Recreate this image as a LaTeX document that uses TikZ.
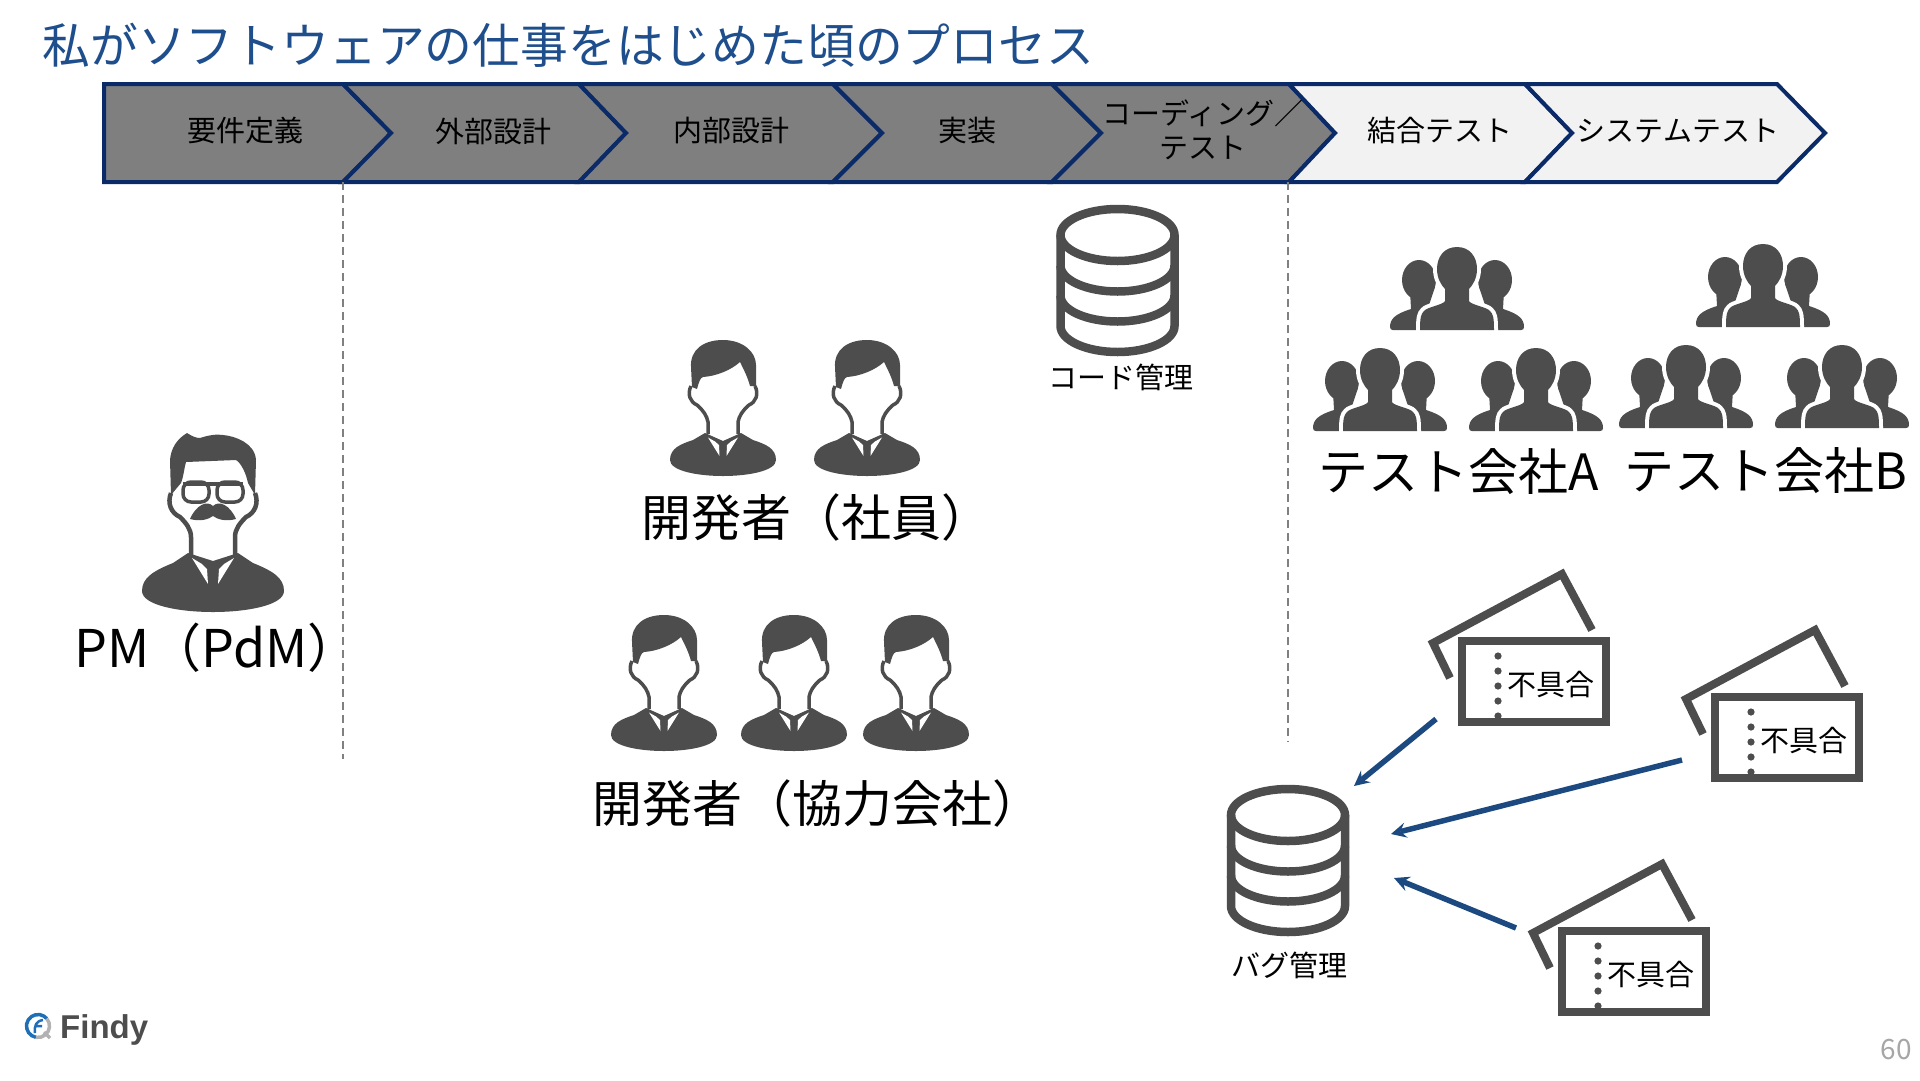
\documentclass[tikz,border=0pt]{standalone}
\usepackage{fontspec}
\setmainfont{Noto Sans CJK JP}
\newfontfamily\findyfont{Liberation Sans}
\definecolor{titleblue}{HTML}{1F4E8C}
\definecolor{stepnavy}{HTML}{0B2A68}
\definecolor{stepgray}{HTML}{7F7F7F}
\definecolor{steplight}{HTML}{F2F2F2}
\definecolor{icondark}{HTML}{4D4D4D}
\definecolor{arrowblue}{HTML}{1C4A80}
\definecolor{findyblue}{HTML}{1F6FB8}
\tikzset{
    titlelabel/.style={anchor=west, text=titleblue, font=\fontsize{47.8}{50}\selectfont},
    steplabel/.style={align=center, font=\fontsize{29}{34}\selectfont},
    smalllabel/.style={font=\fontsize{29}{34}\selectfont},
    biglabel/.style={font=\fontsize{50}{56}\selectfont},
    stepshape/.style={draw=stepnavy, line width=4, line join=miter},
    phaseline/.style={gray, line width=1.8, dash pattern=on 8pt off 5pt},
    iconfill/.style={fill=icondark},
    iconline/.style={draw=icondark, line width=3.5},
    dbline/.style={draw=icondark, line width=8.5},
    bugarrow/.style={->, arrowblue, line width=5.5},
    % icona banca dati
    pics/dbicon/.style={code={
        \draw[dbline] (0,-45) ellipse [x radius=57, y radius=26];
        \draw[dbline] (-57,-45) -- (-57,46) arc (180:0:57 and 26) -- (57,-45);
        \foreach \c in {-14.5, 15.5} {
            \draw[dbline] (-57,\c) arc (180:0:57 and 26);
        }
    }},
    % sviluppatore
    pics/devicon/.style={code={
        \fill[iconfill] (0,0) .. controls (-20,0) and (-33,10) .. (-32,27) -- (-31,47) -- (-26,49)
            .. controls (-24,42) and (-23,38) .. (-20,37) .. controls (-6,36) and (8,30) .. (17,22)
            .. controls (21,30) and (25,38) .. (27,46) -- (33,46) -- (33,25)
            .. controls (33,12) and (20,0) .. (0,0) -- cycle;
        \foreach \s in {-1, 1} {
            \draw[iconline, xscale=\s] (32,46) .. controls (36,54) and (33,62) .. (26,65)
                .. controls (20,70) and (16,76) .. (15,82) -- (15,94);
        }
        \fill[iconfill] (-53,120) .. controls (-53,108) and (-42,104) .. (-30,100) -- (-18,93)
            -- (0,101) -- (18,93) -- (30,100) .. controls (42,104) and (53,108) .. (53,120)
            .. controls (53,131) and (25,136) .. (0,136) .. controls (-25,136) and (-53,131) .. (-53,120) -- cycle;
        \foreach \s in {-1, 1} {
            \fill[white, xscale=\s] (15,97.5) -- (3.5,116) -- (4,105) -- (8,101.5) -- cycle;
        }
    }},
    % PM con baffi
    pics/pmicon/.style={code={
        \fill[iconfill] (-42,62) -- (-43,27) .. controls (-42,15) and (-36,6) .. (-26,0)
            .. controls (-20,4) and (-16,5) .. (-13,5) .. controls (-4,2) and (4,1) .. (10,2)
            .. controls (22,3) and (42,10) .. (43,27) -- (42,62) -- (35,50)
            .. controls (33,40) and (28,30) .. (23,27) -- (-27,29) .. controls (-29,36) and (-29,42) .. (-32,50) -- cycle;
        \foreach \s in {-1, 1} {
            \draw[iconline, line width=4.5, xscale=\s] (42,60) .. controls (46,70) and (42,80) .. (33,84)
                .. controls (27,90) and (22,96) .. (22,104) -- (22,122);
            \draw[iconline, line width=3.5, xscale=\s, rounded corners=8] (4,49) rectangle (30,69);
        }
        \draw[iconline, line width=4.5] (-30,51) -- (30,51);
        \fill[iconfill] (-23,86) .. controls (-17,72) and (-6,67) .. (0,73) .. controls (6,67) and (17,72) .. (23,86)
            .. controls (12,89) and (4,86) .. (0,83) .. controls (-4,86) and (-12,89) .. (-23,86) -- cycle;
        \fill[iconfill] (-71,158) .. controls (-71,145) and (-60,138) .. (-40,130) -- (-25,120) -- (0,128) -- (25,120)
            -- (40,130) .. controls (60,138) and (71,145) .. (71,158) .. controls (71,172) and (35,179) .. (0,179)
            .. controls (-35,179) and (-71,172) .. (-71,158) -- cycle;
        \foreach \s in {-1, 1} {
            \fill[white, xscale=\s] (21,125) -- (5,151) -- (6,136) -- (11,131) -- cycle;
        }
    }},
    % gruppo di persone
    pics/groupicon/.style={code={
        \foreach \s in {-1, 1} {
            \begin{scope}[xscale=\s]
                \fill[iconfill] (38,33) ellipse [x radius=17, y radius=20];
                \fill[iconfill] (67,80) .. controls (67,72) and (62,67) .. (46,62) -- (47,44) -- (22,40) -- (28,58)
                    -- (25,83) -- (64,83) .. controls (66,83) and (67,82) .. (67,80) -- cycle;
            \end{scope}
        }
        \fill[iconfill, preaction={draw=white, line width=8}] (0,0) .. controls (-13,0) and (-20,10) .. (-20,22)
            .. controls (-20,31) and (-16,38) .. (-12,42) -- (-12,54) .. controls (-14,58) and (-30,60) .. (-33,64)
            .. controls (-36,67) and (-37,70) .. (-37,83) -- (37,83) .. controls (37,70) and (36,67) .. (33,64)
            .. controls (30,60) and (14,58) .. (12,54) -- (12,42) .. controls (16,38) and (20,31) .. (20,22)
            .. controls (20,10) and (13,0) .. (0,0) -- cycle;
    }},
    % biglietto del difetto
    pics/ticketicon/.style={code={
        \draw[icondark, line width=8, line join=miter] (-8,41) -- (-25,6) -- (104,-63) -- (134,-7);
        \draw[icondark, line width=8, fill=white] (4,4) rectangle (148,85);
        \foreach \y in {4, 19, ..., 84} {
            \fill[icondark] (40,\y) circle (3.6);
        }
        \node[smalllabel] (-text) at (93,48) {不具合};
    }},
}
\begin{document}
\begin{tikzpicture}[x=1pt, y=-1pt, >=stealth]
    \useasboundingbox (0,0) rectangle (1920,1080);

    % Titolo
    \node[titlelabel] (title) at (39,45) {私がソフトウェアの仕事をはじめた頃のプロセス};

    % Frecce del processo
    \foreach \xa/\xb/\xc/\xd/\col in {104/104/343/391/stepgray, 343/391/579/626/stepgray, 579/626/833/882/stepgray,
        833/882/1052/1101/stepgray, 1052/1101/1289/1335/stepgray, 1289/1335/1525/1572/steplight, 1525/1572/1777/1825/steplight} {
        \draw[stepshape, fill=\col] (\xa,84) -- (\xc,84) -- (\xd,133) -- (\xc,182) -- (\xa,182) -- (\xb,133) -- cycle;
    }
    \node[steplabel] (stepreq) at (245,131) {要件定義};
    \node[steplabel] (stepext) at (493,131) {外部設計};
    \node[steplabel] (stepint) at (731,131) {内部設計};
    \node[steplabel] (stepimpl) at (967,131) {実装};
    \node[steplabel] (stepcode) at (1203,130) {コーディング／\\テスト};
    \node[steplabel] (stepjoin) at (1440,131) {結合テスト};
    \node[steplabel] (stepsys) at (1678,131) {システムテスト};

    % Linee tratteggiate
    \coordinate (phaseatop) at (343,182);
    \coordinate (phaseaend) at (343,759);
    \coordinate (phasebtop) at (1288,182);
    \coordinate (phasebend) at (1288,742);
    \draw[phaseline] (phaseatop) -- (phaseaend);
    \draw[phaseline] (phasebtop) -- (phasebend);

    % Persone
    \pic (pm) at (213,433) {pmicon};
    \node[biglabel, font=\fontsize{52}{56}\selectfont] (pmlabel) at (217,648) {PM（PdM）};
    \foreach \x in {723, 867} {
        \pic at (\x,340) {devicon};
    }
    \node[biglabel] (devstaff) at (816,517) {開発者（社員）};
    \foreach \x in {664, 794, 916} {
        \pic at (\x,615) {devicon};
    }
    \node[biglabel] (devpartner) at (817,803) {開発者（協力会社）};

    % Banche dati
    \pic (codedb) at (1117.5,280) {dbicon};
    \node[smalllabel] (codelabel) at (1121,377) {コード管理};
    \pic (bugdb) at (1288,860) {dbicon};
    \node[smalllabel] (buglabel) at (1289,965) {バグ管理};

    % Gruppi di tester
    \foreach \x/\y in {1457/247, 1380/348, 1536/348, 1763/244, 1686/345, 1842/345} {
        \pic at (\x,\y) {groupicon};
    }
    \node[biglabel] (testa) at (1459,472) {テスト会社A};
    \node[biglabel] (testb) at (1766,471) {テスト会社B};

    % Biglietti e frecce
    \pic (ticketa) at (1458,637) {ticketicon};
    \pic (ticketb) at (1711,693) {ticketicon};
    \pic (ticketc) at (1558,927) {ticketicon};
    \coordinate (bugsrca) at (1436,719);
    \coordinate (bugdsta) at (1354,786);
    \coordinate (bugsrcb) at (1682,760);
    \coordinate (bugdstb) at (1391,834);
    \coordinate (bugsrcc) at (1516,928);
    \coordinate (bugdstc) at (1394,878);
    \draw[bugarrow] (bugsrca) -- (bugdsta);
    \draw[bugarrow] (bugsrcb) -- (bugdstb);
    \draw[bugarrow] (bugsrcc) -- (bugdstc);

    % Logo e numero di pagina
    \draw[findyblue, line width=3.5] ([shift={(100:11.5)}]38,1026) arc (100:320:11.5);
    \draw[gray!60, line width=3.5] ([shift={(320:11.5)}]38,1026) arc (320:460:11.5) (44,1032) -- (50,1038);
    \draw[findyblue, line width=2.5] (35,1033) .. controls (34,1026) and (36,1021) .. (43,1020) (35,1026) -- (42,1026);
    \node[anchor=base west, inner sep=0pt, text=icondark, font=\findyfont\bfseries\fontsize{33}{34}\selectfont] (findy) at (60,1038) {Findy};
    \node[text=gray!70, font=\fontsize{28}{30}\selectfont] (pagenum) at (1896,1050) {60};
\end{tikzpicture}
\end{document}
